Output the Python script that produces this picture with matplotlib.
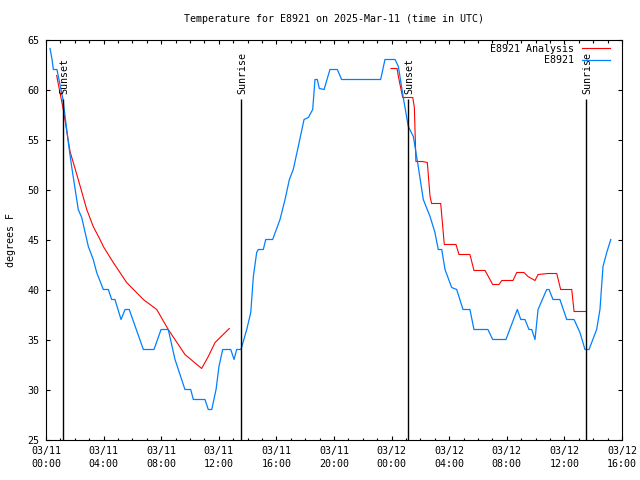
import numpy as np
import matplotlib
matplotlib.use('Agg')
import matplotlib.pyplot as plt

# hours since 2025-03-11 00:00 UTC
analysis_hours = [0.74, 1.20, 1.67, 2.24, 2.83, 3.28, 3.75, 3.98, 4.67, 5.60, 6.76, 7.69,
                  8.49, 9.65, 10.23, 10.81, 11.27, 11.74, 12.73]
analysis_temp = [61.4, 58.0, 53.8, 51.0, 48.0, 46.3, 45.0, 44.3, 42.7, 40.7, 39.0, 38.0,
                 36.0, 33.5, 32.8, 32.1, 33.3, 34.7, 36.1]

analysis2_hours = [23.96, 24.38, 24.47, 24.77, 25.47, 25.58, 25.69, 26.16, 26.48, 26.67,
                   26.78, 27.41, 27.66, 28.47, 28.68, 29.44, 29.72, 30.49, 31.02, 31.46,
                   31.65, 32.43, 32.69, 33.19, 33.47, 33.96, 34.17, 34.86, 35.47, 35.74,
                   36.51, 36.67, 37.50]
analysis2_temp = [62.1, 62.1, 61.3, 59.2, 59.2, 58.2, 52.8, 52.8, 52.7, 49.3,
                  48.6, 48.6, 44.5, 44.5, 43.5, 43.5, 41.9, 41.9, 40.5, 40.5,
                  40.9, 40.9, 41.7, 41.7, 41.3, 40.9, 41.5, 41.6, 41.6, 40.0,
                  40.0, 37.8, 37.8]

obs_hours = [0.28, 0.42, 0.51, 0.76, 0.97, 1.18, 1.55, 1.78, 2.24, 2.48, 2.94, 3.28, 3.52,
             3.98, 4.33, 4.56, 4.79, 5.21, 5.49, 5.78, 6.76, 7.50, 7.99, 8.49, 8.96, 9.65,
             10.05, 10.23, 11.04, 11.27, 11.51, 11.81, 12.01, 12.27, 12.83, 13.06, 13.24,
             13.54, 13.94, 14.22, 14.40, 14.63, 14.74, 15.09, 15.26, 15.74, 16.25, 16.60,
             16.90, 17.17, 17.52, 17.92, 18.22, 18.52, 18.68, 18.84, 18.98, 19.31, 19.72,
             20.23, 20.53, 23.24, 23.54, 24.24, 24.47, 24.81, 25.16, 25.51, 25.85, 26.20,
             26.67, 27.01, 27.24, 27.48, 27.71, 28.17, 28.52, 28.96, 29.44, 29.72, 30.69,
             31.02, 31.94, 32.73, 32.97, 33.26, 33.54, 33.73, 33.96, 34.17, 34.77, 34.93,
             35.21, 35.69, 36.16, 36.67, 37.08, 37.43, 37.71, 38.24, 38.47, 38.68, 38.94,
             39.22]
obs_temp = [64.1, 63.0, 62.0, 62.0, 60.5, 59.0, 54.7, 52.3, 48.0, 47.2, 44.3, 43.0, 41.7,
            40.0, 40.0, 39.0, 39.0, 37.0, 38.0, 38.0, 34.0, 34.0, 36.0, 36.0, 33.0, 30.0,
            30.0, 29.0, 29.0, 28.0, 28.0, 30.0, 32.3, 34.0, 34.0, 33.0, 34.0,
            34.0, 36.0, 37.7, 41.3, 43.7, 44.0, 44.0, 45.0, 45.0, 47.0, 49.0,
            51.0, 52.0, 54.3, 57.0, 57.2, 58.0, 61.0, 61.0, 60.1, 60.0, 62.0,
            62.0, 61.0, 61.0, 63.0, 63.0, 62.3, 59.2, 56.3, 55.3, 52.3, 49.0,
            47.3, 45.7, 44.0, 44.0, 42.0, 40.2, 40.0, 38.0, 38.0, 36.0, 36.0,
            35.0, 35.0, 38.0, 37.0, 37.0, 36.0, 36.0, 35.0, 38.0, 40.0, 40.0,
            39.0, 39.0, 37.0, 37.0, 35.7, 34.0, 34.0, 36.0, 38.0, 42.3, 43.7,
            45.0]

sun_hours = [1.20, 13.54, 25.16, 37.50]
sun_labels = ['Sunset', 'Sunrise', 'Sunset', 'Sunrise']

tick_hours = list(range(0, 41, 4))
tick_labels = ['03/11\n00:00', '03/11\n04:00', '03/11\n08:00', '03/11\n12:00',
               '03/11\n16:00', '03/11\n20:00', '03/12\n00:00', '03/12\n04:00',
               '03/12\n08:00', '03/12\n12:00', '03/12\n16:00']

plt.rcParams['font.family'] = 'DejaVu Sans Mono'
fs = 7.2

fig = plt.figure(figsize=(6.4, 4.8), dpi=100)
ax = fig.add_axes([46/640, 1-439.5/480, 576/640, 400/480])

red = '#ff0000'
blue = '#0080ff'
ax.plot(analysis_hours, analysis_temp, color=red, lw=0.8, label='E8921 Analysis')
ax.plot(analysis2_hours, analysis2_temp, color=red, lw=0.8)
ax.plot(obs_hours, obs_temp, color=blue, lw=0.9, label='E8921')

for h, lab in zip(sun_hours, sun_labels):
	ax.vlines(h, 25, 59.1, color='black', lw=1.0)
	ax.text(h + 0.1, 59.6, lab, rotation=90, ha='center', va='bottom', fontsize=fs)

ax.set_xlim(0, 40)
ax.set_ylim(25, 65)
ax.set_xticks(tick_hours)
ax.set_xticklabels(tick_labels, linespacing=1.35)
ax.set_xticks(range(0, 41), minor=True)
ax.set_yticks(range(25, 66, 5))
ax.tick_params(which='both', direction='in', top=True, right=True, labelsize=fs, width=0.8)
ax.tick_params(which='major', length=3.2, pad=4.5)
ax.tick_params(which='minor', length=1.8)
for s in ax.spines.values():
	s.set_linewidth(0.8)

fig.text(11/640, 0.5, 'degrees F', rotation=90, ha='center', va='center', fontsize=fs)
fig.text(334/640, 1-19/480, 'Temperature for E8921 on 2025-Mar-11 (time in UTC)',
		 ha='center', va='center', fontsize=fs)

ax.legend(loc='upper right', bbox_to_anchor=(610/640, 1-43.5/480), bbox_transform=fig.transFigure,
		  frameon=False, markerfirst=False, fontsize=fs, borderpad=0, borderaxespad=0,
		  handlelength=2.8, handletextpad=0.8, labelspacing=0.15)

fig.savefig('out.png', dpi=100)
